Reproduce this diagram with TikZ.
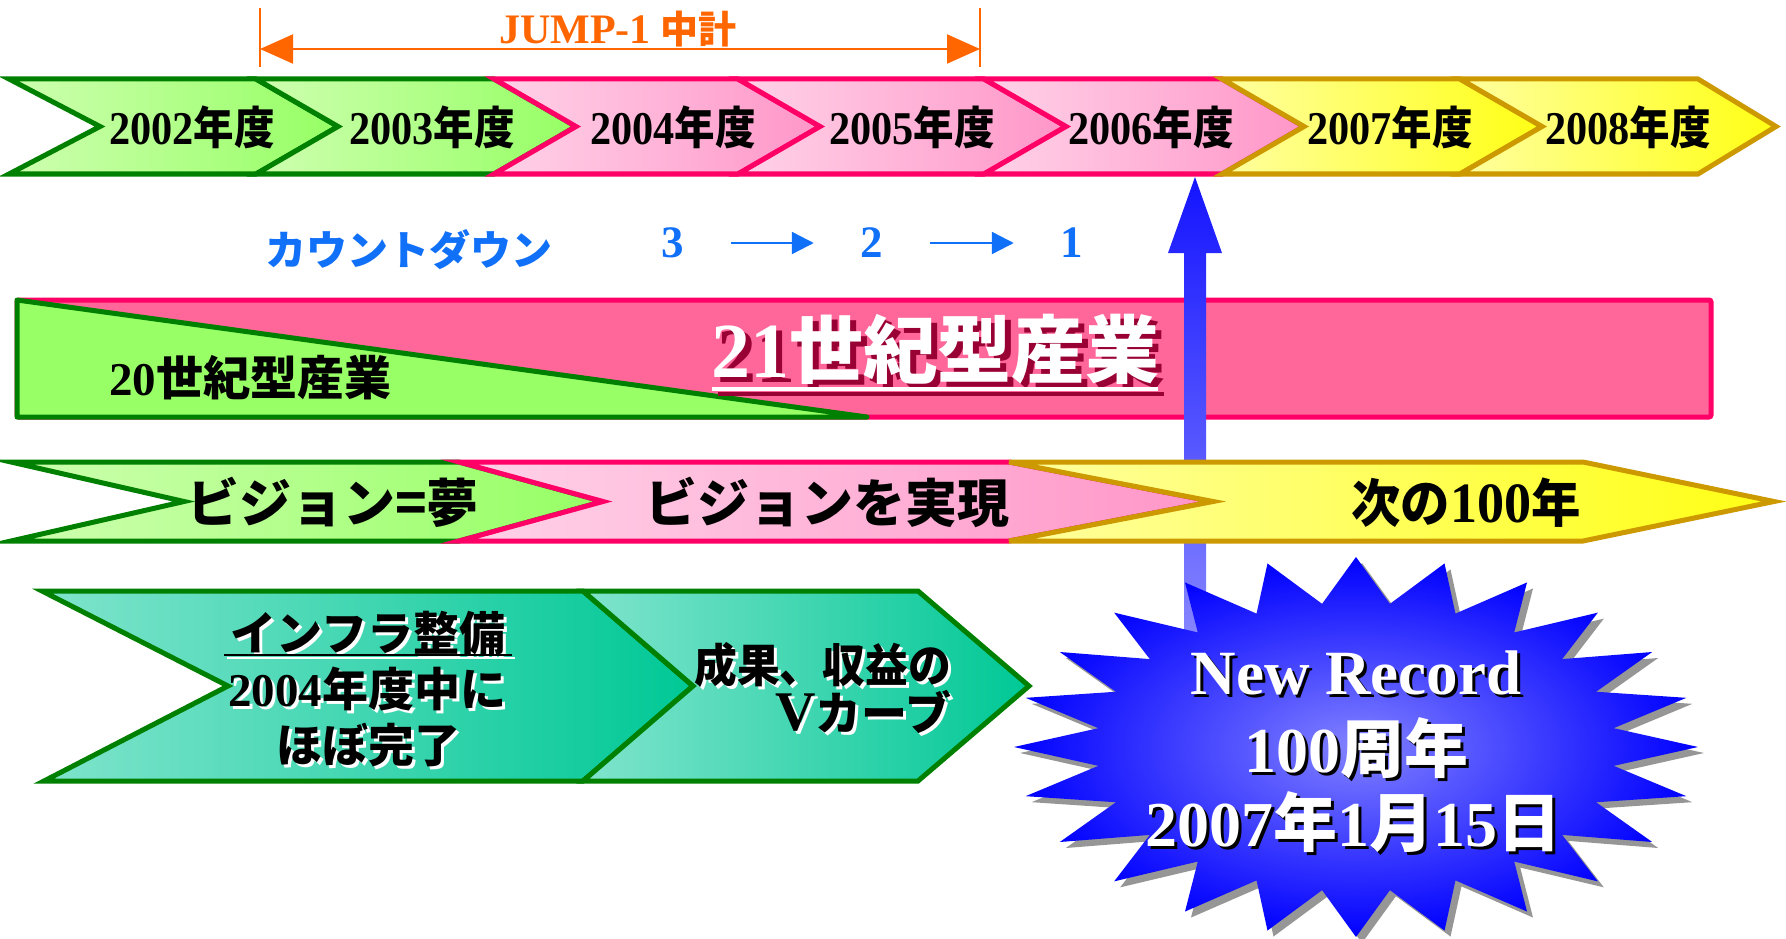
\documentclass[tikz,border=0pt]{standalone}
\usepackage{fontspec}
\usepackage{graphicx}
\setmainfont{Liberation Serif}
\newfontfamily\jpf{Noto Sans CJK JP}
\usetikzlibrary{arrows.meta}
\definecolor{dkg}{RGB}{0,128,0}
\definecolor{gL}{RGB}{206,255,176}
\definecolor{gR}{RGB}{150,255,100}
\definecolor{pkO}{RGB}{255,0,102}
\definecolor{pL}{RGB}{255,210,232}
\definecolor{pR}{RGB}{255,150,200}
\definecolor{yO}{RGB}{204,153,0}
\definecolor{yL}{RGB}{255,255,160}
\definecolor{yR}{RGB}{255,255,20}
\definecolor{tL}{RGB}{128,228,204}
\definecolor{tR}{RGB}{0,200,150}
\definecolor{rectpk}{RGB}{255,102,153}
\definecolor{triG}{RGB}{153,255,102}
\definecolor{orng}{RGB}{255,102,0}
\definecolor{cdblue}{RGB}{16,112,248}
\definecolor{arrT}{RGB}{20,20,255}
\definecolor{arrB}{RGB}{136,136,255}
\definecolor{starIn}{RGB}{130,130,255}
\definecolor{starOut}{RGB}{0,0,255}
\definecolor{starSh}{RGB}{150,150,150}
\definecolor{dred}{RGB}{153,0,51}
\newcommand\Ts[2]{{\fontsize{#1pt}{#1pt}\selectfont\bfseries #2}}
\newcommand\Js[2]{{\jpf\fontsize{#1pt}{#1pt}\selectfont\bfseries #2}}
\newcommand\chevron[7]{\path[#1] (#2,#6) -- (#4,#6) -- (#5,{(#6+#7)/2}) -- (#4,#7) -- (#2,#7) -- (#3,{(#6+#7)/2}) -- cycle;}
\newcommand\yr[1]{\scalebox{0.9}[1]{\Ts{47}{#1}\Js{45}{年度}}}
\newcommand\starpath{plot[variable=\k, samples at={0,...,47}] ({1356+342*(1-0.24*mod(\k,2))*cos(90+7.5*\k)}, {747-190*(1-0.24*mod(\k,2))*sin(90+7.5*\k)}) -- cycle}
\begin{document}
\begin{tikzpicture}[x=1pt, y=-1pt,
  chevbase/.style={line width=5pt, line join=miter},
  gch/.style={chevbase, draw=dkg, left color=gL, right color=gR},
  pch/.style={chevbase, draw=pkO, left color=pL, right color=pR},
  ych/.style={chevbase, draw=yO, left color=yL, right color=yR},
  tch/.style={chevbase, draw=dkg, left color=tL, right color=tR},
  lbl/.style={inner sep=0pt, outer sep=0pt},
  jumpline/.style={draw=orng, line width=2pt},
  cdarr/.style={draw=cdblue, line width=2.5pt, -{Triangle[length=22pt,width=22pt]}, shorten <=47pt, shorten >=47pt}
]
\useasboundingbox (0,0) rectangle (1786,939);

% ---- row 1: years
\chevron{gch}{9}{100}{256}{338}{79}{174}
\chevron{gch}{256}{338}{494}{576}{79}{174}
\chevron{pch}{494}{576}{738}{820}{79}{174}
\chevron{pch}{738}{820}{984}{1066}{79}{174}
\chevron{pch}{984}{1066}{1222}{1304}{79}{174}
\chevron{ych}{1222}{1304}{1460}{1542}{79}{174}
\chevron{ych}{1460}{1542}{1698}{1776}{79}{174}
\node[lbl] (y2002) at (192,127) {\yr{2002}};
\node[lbl] (y2003) at (432,127) {\yr{2003}};
\node[lbl] (y2004) at (673,127) {\yr{2004}};
\node[lbl] (y2005) at (912,127) {\yr{2005}};
\node[lbl] (y2006) at (1151,127) {\yr{2006}};
\node[lbl] (y2007) at (1390,127) {\yr{2007}};
\node[lbl] (y2008) at (1628,127) {\yr{2008}};

% ---- JUMP-1
\coordinate (jlt) at (260,8); \coordinate (jlb) at (260,67);
\coordinate (jrt) at (980,8); \coordinate (jrb) at (980,67);
\coordinate (jl) at (260,49); \coordinate (jr) at (980,49);
\draw[jumpline] (jlt) -- (jlb);
\draw[jumpline] (jrt) -- (jrb);
\draw[jumpline, {Triangle[length=33pt,width=29pt]}-{Triangle[length=33pt,width=29pt]}] (jl) -- (jr);
\node[lbl, text=orng] (jump) at (618,29) {\Ts{42}{JUMP-1}\hspace{10pt}\Js{38}{中計}};

% ---- countdown
\node[lbl, text=cdblue] (cd) at (409,250) {\Js{41}{カウントダウン}};
\node[lbl, text=cdblue] (n3) at (673,243) {\Ts{45}{3}};
\node[lbl, text=cdblue] (n2) at (872,243) {\Ts{45}{2}};
\node[lbl, text=cdblue] (n1) at (1072,243) {\Ts{45}{1}};
\draw[cdarr] (n3) -- (n2);
\draw[cdarr] (n2) -- (n1);

% ---- row 3
\path[draw=pkO, fill=rectpk, line width=5pt, rounded corners=2pt] (17,300) rectangle (1711,417);
\path[draw=dkg, fill=triG, line width=5pt, line join=round] (17,300) -- (867,417) -- (17,417) -- cycle;
\node[lbl] (c20) at (250,378) {\Ts{47}{20}\Js{47}{世紀型産業}};
\node[lbl, text=dred] (c21s) at (941,354) {\Ts{78}{21}\Js{74}{世紀型産業}};
\node[lbl, text=white] (c21) at (935,349) {\Ts{78}{21}\Js{74}{世紀型産業}};
\draw[dred, line width=4pt] (718,394) -- (1164,394);
\draw[white, line width=4pt] (712,389) -- (1158,389);

% ---- blue arrow
\coordinate (abase) at (1195,645);
\coordinate (atip) at (1195,177);
\shade[top color=arrT, bottom color=arrB] ([shift={(-11,0)}]abase) -- ([shift={(-11,76)}]atip) -- ([shift={(-27,76)}]atip) -- (atip) -- ([shift={(27,76)}]atip) -- ([shift={(11,76)}]atip) -- ([shift={(11,0)}]abase) -- cycle;

% ---- row 4
\chevron{gch}{11}{184}{459}{603}{462}{541}
\chevron{pch}{459}{603}{1009}{1213}{462}{541}
\chevron{ych}{1009}{1213}{1583}{1774}{462}{541}
\node[lbl] (vis1) at (333,502) {\Js{52}{ビジョン=夢}};
\node[lbl] (vis2) at (827,502) {\Js{52}{ビジョンを実現}};
\node[lbl] (next) at (1466,503) {\scalebox{0.95}[1]{\Js{52}{次の}\Ts{57}{100}\Js{52}{年}}};

% ---- row 5
\path[tch] (42,591) -- (583,591) -- (693,686) -- (583,781) -- (44,781) -- (228,686) -- cycle;
\chevron{tch}{583}{693}{918}{1029}{591}{781}
\node[lbl, text=white] (inf-s) at (371,636) {\Js{46}{インフラ整備}};
\node[lbl] (inf) at (368,633) {\Js{46}{インフラ整備}};
\draw[white, line width=2.5pt] (227,658) -- (515,658);
\draw[black, line width=2.5pt] (224,655) -- (512,655);
\node[lbl, text=white] (inf2-s) at (370,692) {\Ts{47}{2004}\Js{46}{年度中に}};
\node[lbl] (inf2) at (367,689) {\Ts{47}{2004}\Js{46}{年度中に}};
\node[lbl, text=white] (inf3-s) at (371,748) {\Js{46}{ほぼ完了}};
\node[lbl] (inf3) at (368,745) {\Js{46}{ほぼ完了}};
\node[lbl, anchor=east, text=white] (res1-s) at (954,668) {\scalebox{0.93}[1]{\Js{46}{成果、収益の}}};
\node[lbl, anchor=east] (res1) at (951,665) {\scalebox{0.93}[1]{\Js{46}{成果、収益の}}};
\node[lbl, anchor=east, text=white] (res2-s) at (954,715) {\Ts{56}{V}\Js{46}{カーブ}};
\node[lbl, anchor=east] (res2) at (951,712) {\Ts{56}{V}\Js{46}{カーブ}};

% ---- star
\fill[starSh, shift={(6,6)}] \starpath;
\shade[inner color=starIn, outer color=starOut] \starpath;
\node[lbl, text=black] (nr-s) at (1359,676) {\Ts{63}{New Record}};
\node[lbl, text=white] (nr) at (1356,673) {\Ts{63}{New Record}};
\node[lbl, text=black] (cent-s) at (1359,751) {\Ts{64}{100}\Js{64}{周年}};
\node[lbl, text=white] (cent) at (1356,748) {\Ts{64}{100}\Js{64}{周年}};
\node[lbl, text=black] (date-s) at (1356,825) {\Ts{64}{2007}\Js{64}{年}\Ts{64}{1}\Js{64}{月}\Ts{64}{15}\Js{64}{日}};
\node[lbl, text=white] (date) at (1353,822) {\Ts{64}{2007}\Js{64}{年}\Ts{64}{1}\Js{64}{月}\Ts{64}{15}\Js{64}{日}};
\end{tikzpicture}
\end{document}
